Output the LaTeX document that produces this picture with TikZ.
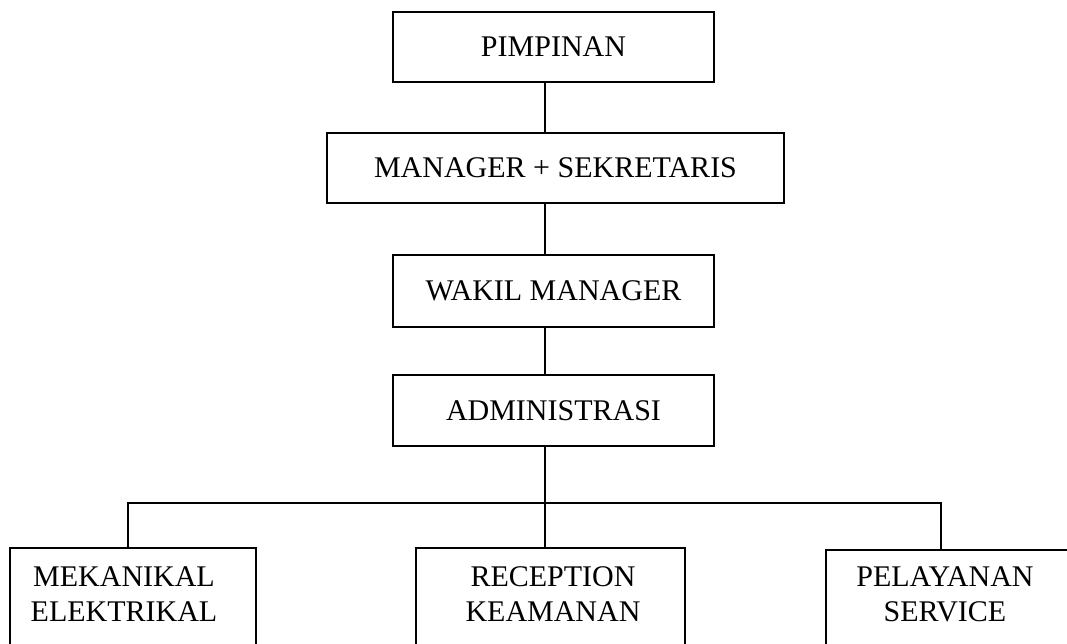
\documentclass[tikz,border=0pt]{standalone}
\usepackage{fontspec}
\setmainfont{Liberation Serif}
\begin{document}
\begin{tikzpicture}[x=1pt,y=-1pt,
  box/.style={draw, line width=2pt, rectangle, inner sep=0pt, font=\fontsize{30}{35}\selectfont, align=center},
  txt/.style={inner sep=0pt, font=\fontsize{30}{35}\selectfont, align=center},
  link/.style={line width=2pt}]
\clip (0,0) rectangle (1067,643);
\fill[white] (0,0) rectangle (1067,643);
\coordinate (spine) at (545,0);
\node[box, minimum width=321pt, minimum height=70pt] (pim) at (553.5,47) {PIMPINAN};
\node[box, minimum width=457pt, minimum height=70pt] (man) at (555.5,168) {MANAGER + SEKRETARIS};
\node[box, minimum width=321pt, minimum height=72pt] (wak) at (553.5,291) {WAKIL MANAGER};
\node[box, minimum width=321pt, minimum height=71pt] (adm) at (553.5,410.5) {ADMINISTRASI};
\node[box, minimum width=246pt, minimum height=150pt, anchor=north west] (mek) at (9,547) {};
\node[txt] (mektxt) at (124,594.5) {MEKANIKAL\\ELEKTRIKAL};
\node[box, minimum width=269pt, minimum height=150pt, anchor=north west] (rec) at (415,547) {};
\node[txt] (rectxt) at (553,594.5) {RECEPTION\\KEAMANAN};
\node[box, minimum width=260pt, minimum height=150pt, anchor=north west] (pel) at (825,549) {};
\node[txt] (peltxt) at (945,594.5) {PELAYANAN\\SERVICE};
\coordinate (bar) at (0,503);
\coordinate (lx) at (128,0);
\coordinate (rx) at (941,0);
\draw[link] (pim.south -| spine) -- (man.north -| spine);
\draw[link] (man.south -| spine) -- (wak.north -| spine);
\draw[link] (wak.south -| spine) -- (adm.north -| spine);
\draw[link] (adm.south -| spine) -- (rec.north -| spine);
\draw[link] (mek.north -| lx) -- (bar -| lx) -- (bar -| rx) -- (pel.north -| rx);
\end{tikzpicture}
\end{document}
